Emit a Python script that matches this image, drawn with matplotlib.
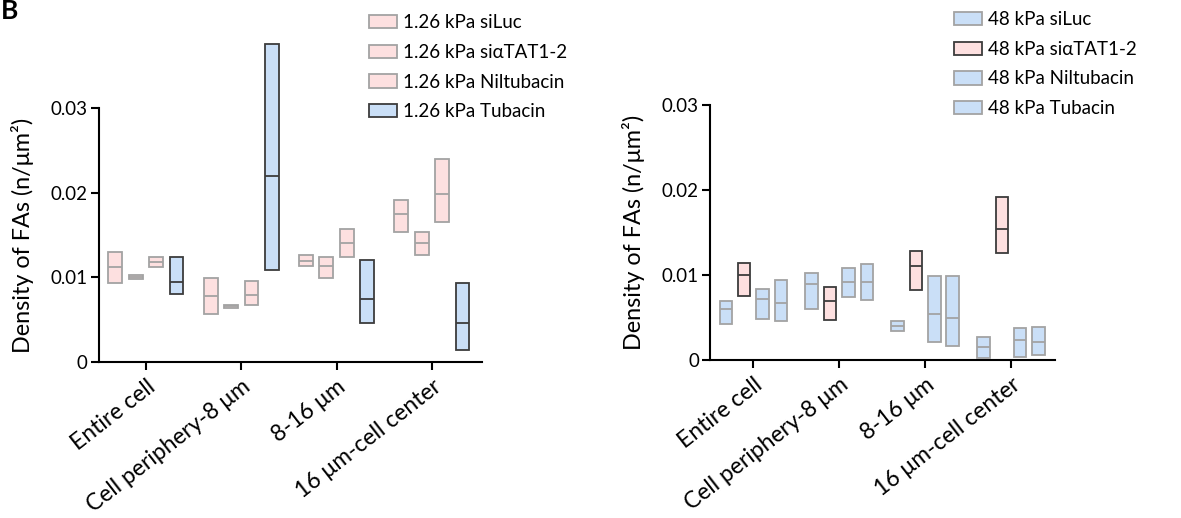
import numpy as np
import matplotlib
matplotlib.use("Agg")
import matplotlib.pyplot as plt
from matplotlib.patches import Patch

plt.rcParams['font.family'] = ['Lato', 'DejaVu Sans']

# -------- DATA --------
regions = ["Entire cell", "Cell periphery-8 μm", "8-16 μm", "16 μm-cell center"]

soft_labels = ["1.26 kPa siLuc", "1.26 kPa siαTAT1-2", "1.26 kPa Niltubacin", "1.26 kPa Tubacin"]
soft_lo = [
    [0.0094, 0.0098, 0.0112, 0.0080],
    [0.0057, 0.0064, 0.0068, 0.0109],
    [0.0113, 0.0099, 0.0124, 0.0046],
    [0.0153, 0.0126, 0.0165, 0.0014],
]
soft_hi = [
    [0.0130, 0.0103, 0.0124, 0.0124],
    [0.0099, 0.0068, 0.0096, 0.0375],
    [0.0126, 0.0124, 0.0157, 0.0121],
    [0.0191, 0.0153, 0.0240, 0.0093],
]
soft_med = [
    [0.0112, 0.0100, 0.0118, 0.0095],
    [0.0078, 0.0066, 0.0079, 0.0220],
    [0.0119, 0.0114, 0.0141, 0.0075],
    [0.0175, 0.0141, 0.0198, 0.0046],
]

stiff_labels = ["48 kPa siLuc", "48 kPa siαTAT1-2", "48 kPa Niltubacin", "48 kPa Tubacin"]
stiff_lo = [
    [0.0043, 0.0075, 0.0048, 0.0046],
    [0.0060, 0.0047, 0.0074, 0.0071],
    [0.0034, 0.0083, 0.0021, 0.0017],
    [0.0002, 0.0126, 0.0003, 0.0006],
]
stiff_hi = [
    [0.0069, 0.0114, 0.0084, 0.0094],
    [0.0103, 0.0086, 0.0108, 0.0113],
    [0.0046, 0.0128, 0.0099, 0.0099],
    [0.0027, 0.0192, 0.0038, 0.0039],
]
stiff_med = [
    [0.0060, 0.0100, 0.0072, 0.0067],
    [0.0089, 0.0069, 0.0092, 0.0092],
    [0.0040, 0.0111, 0.0054, 0.0049],
    [0.0015, 0.0154, 0.0024, 0.0021],
]

# -------- STYLE --------
pink = "#fde0e0"
blue = "#cadff7"
gray_edge = "#a3a3a3"
dark_edge = "#3c3c3c"

soft_fill = [pink, pink, pink, blue]
soft_edge = [gray_edge, gray_edge, gray_edge, dark_edge]
stiff_fill = [blue, pink, blue, blue]
stiff_edge = [gray_edge, dark_edge, gray_edge, gray_edge]

fig = plt.figure(figsize=(11.81, 5.18), dpi=100)
ax1 = fig.add_axes([0.0838, 0.3006, 0.3243, 0.4915])
ax2 = fig.add_axes([0.6012, 0.3050, 0.2921, 0.4917])

width = 0.145
step = 0.214


def draw(ax, lo, hi, med, fills, edges, xlim):
    lo = np.array(lo)
    hi = np.array(hi)
    med = np.array(med)
    x = np.arange(len(regions))
    for j in range(lo.shape[1]):
        xs = x + (j - 1.5) * step
        ax.bar(xs, hi[:, j] - lo[:, j], bottom=lo[:, j], width=width,
               facecolor=fills[j], edgecolor=edges[j], linewidth=1.3, clip_on=False, zorder=3)
        ax.hlines(med[:, j], xs - width / 2, xs + width / 2, colors=edges[j],
                  linewidth=1.3, clip_on=False, zorder=4)
    ax.set_xlim(*xlim)
    ax.set_ylim(0, 0.03)
    ax.set_yticks([0, 0.01, 0.02, 0.03])
    ax.set_yticklabels(["0", "0.01", "0.02", "0.03"])
    ax.set_xticks(x)
    ax.set_xticklabels(regions, rotation=38, ha='right', rotation_mode='anchor')
    for s in ['top', 'right']:
        ax.spines[s].set_visible(False)
    for s in ['left', 'bottom']:
        ax.spines[s].set_linewidth(1.5)
    ax.tick_params(axis='both', width=1.5, length=6, colors='black')
    ax.tick_params(axis='x', pad=4, labelsize=16.5)
    ax.tick_params(axis='y', pad=2, labelsize=13.5)
    ax.set_ylabel("Density of FAs (n/μm²)", fontsize=16.8, labelpad=12)


draw(ax1, soft_lo, soft_hi, soft_med, soft_fill, soft_edge, (-0.493, 3.526))
draw(ax2, stiff_lo, stiff_hi, stiff_med, stiff_fill, stiff_edge, (-0.504, 3.512))


def legend(ax, labels, fills, edges, anchor):
    handles = [Patch(facecolor=f, edgecolor=e, linewidth=1.3) for f, e in zip(fills, edges)]
    ax.legend(handles, labels, loc='upper left', bbox_to_anchor=anchor,
              bbox_transform=fig.transFigure, frameon=False, fontsize=13.5,
              handlelength=1.5, handleheight=0.72, handletextpad=0.3,
              labelspacing=0.68, borderpad=0, borderaxespad=0)


legend(ax1, soft_labels, soft_fill, soft_edge, (369 / 1181, 1 - 14 / 518))
legend(ax2, stiff_labels, stiff_fill, stiff_edge, (954 / 1181, 1 - 11 / 518))

fig.text(0.001, 1 - 19 / 518, "B", fontsize=19, fontweight='bold', va='baseline', ha='left')

fig.savefig("out.png", dpi=100)
